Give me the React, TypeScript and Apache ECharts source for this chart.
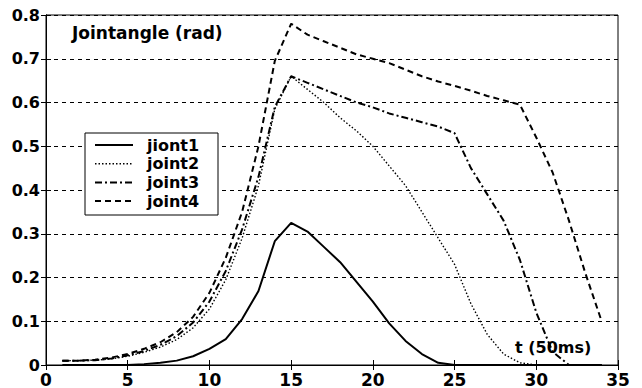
import React, { useEffect, useRef } from "react";
import * as echarts from "echarts";

const t = [1,2,3,4,5,6,7,8,9,10,11,12,13,14,15,16,17,18,19,20,21,22,23,24,25,26,27,28,29,30,31,32,33,34];
const joint1 = [0,0,0,0,0,0.002,0.005,0.01,0.02,0.037,0.059,0.105,0.169,0.283,0.325,0.305,0.27,0.235,0.19,0.145,0.095,0.055,0.025,0.005,0,0,0,0,0,0,0,0,0,0];
const joint2 = [0.01,0.01,0.011,0.014,0.02,0.029,0.041,0.058,0.085,0.128,0.195,0.29,0.41,0.585,0.66,0.63,0.6,0.565,0.535,0.5,0.455,0.41,0.35,0.29,0.23,0.14,0.07,0.025,0.005,0,0,0,0,0];
const joint3 = [0.01,0.01,0.011,0.015,0.022,0.032,0.046,0.066,0.097,0.145,0.215,0.31,0.43,0.59,0.66,0.645,0.63,0.615,0.6,0.589,0.575,0.565,0.555,0.545,0.53,0.45,0.39,0.33,0.24,0.12,0.03,0,0,0];
const joint4 = [0.01,0.01,0.012,0.017,0.025,0.037,0.052,0.075,0.11,0.165,0.245,0.35,0.5,0.695,0.78,0.755,0.74,0.725,0.71,0.7,0.69,0.675,0.66,0.648,0.638,0.627,0.615,0.605,0.595,0.52,0.44,0.33,0.21,0.1];
const names = ["jiont1", "joint2", "joint3", "joint4"];
const dashes: any[] = ["solid", [1.5, 2], [7, 3, 2, 3], [6, 4]];
const font = "'DejaVu Sans', Verdana, sans-serif";

export default function App() {
  const ref = useRef<HTMLDivElement>(null);
  useEffect(() => {
    const chart = echarts.init(ref.current!, null, { renderer: "svg" });
    const all = [joint1, joint2, joint3, joint4];
    const series = all.map((d, i) => ({
      name: names[i],
      type: "line",
      data: t.map((x, k) => [x, d[k]]),
      showSymbol: false,
      lineStyle: { color: "#000", width: i === 1 ? 1.4 : 2, type: dashes[i] },
      z: 3,
    }));
    const lx = 85, ly = 133, lw = 133, lh = 82;
    const legendEls: any[] = [
      { type: "rect", shape: { x: lx, y: ly, width: lw, height: lh }, style: { fill: "#fff", stroke: "#000", lineWidth: 1 }, z: 10 },
    ];
    names.forEach((n, i) => {
      const y = ly + 12 + i * 18.7;
      legendEls.push({
        type: "line",
        shape: { x1: lx + 10, y1: y, x2: lx + 48, y2: y },
        style: { stroke: "#000", lineWidth: i === 1 ? 1.4 : 2, lineDash: i === 0 ? null : dashes[i] },
        z: 11,
      });
      legendEls.push({
        type: "text",
        x: lx + 62, y: y,
        style: { text: n, font: `bold 16px ${font}`, fill: "#000", textVerticalAlign: "middle" },
        z: 11,
      });
    });
    chart.setOption({
      animation: false,
      backgroundColor: "#fff",
      grid: { left: 46, right: 24, top: 15, bottom: 22, show: true, borderColor: "#000", borderWidth: 1, backgroundColor: "transparent" },
      xAxis: [
        {
          type: "value", min: 0, max: 35, interval: 5,
          axisLine: { lineStyle: { color: "#000" } },
          axisTick: { inside: true, length: 5, lineStyle: { color: "#000" } },
          axisLabel: { color: "#000", fontFamily: font, fontWeight: "bold", fontSize: 17, margin: 6 },
          splitLine: { show: false },
        },
        {
          type: "value", min: 0, max: 35, interval: 5, position: "top",
          axisLine: { lineStyle: { color: "#000" } },
          axisTick: { inside: true, length: 5, lineStyle: { color: "#000" } },
          axisLabel: { show: false },
          splitLine: { show: false },
        },
      ],
      yAxis: [
        {
          type: "value", min: 0, max: 0.8, interval: 0.1,
          axisLine: { show: true, lineStyle: { color: "#000" } },
          axisTick: { inside: true, length: 5, lineStyle: { color: "#000" } },
          axisLabel: { color: "#000", fontFamily: font, fontWeight: "bold", fontSize: 16, margin: 6,
            formatter: (v: number) => (v === 0 ? "0" : v.toFixed(1)) },
          splitLine: { show: true, lineStyle: { color: "#000", type: [4, 4], width: 1 } },
        },
        {
          type: "value", min: 0, max: 0.8, interval: 0.1, position: "right",
          axisLine: { show: true, lineStyle: { color: "#000" } },
          axisTick: { inside: true, length: 5, lineStyle: { color: "#000" } },
          axisLabel: { show: false },
          splitLine: { show: false },
        },
      ],
      series,
      graphic: [
        { type: "text", x: 72, y: 33, style: { text: "Jointangle (rad)", font: `bold 17px ${font}`, fill: "#000", textVerticalAlign: "middle" }, z: 10 },
        { type: "text", x: 515, y: 347, style: { text: "t (50ms)", font: `bold 16px ${font}`, fill: "#000", textVerticalAlign: "middle" }, z: 10 },
        ...legendEls,
      ],
    });
    return () => chart.dispose();
  }, []);
  return <div ref={ref} style={{ width: 642, height: 388, position: "absolute", left: 0, top: 0 }} />;
}
